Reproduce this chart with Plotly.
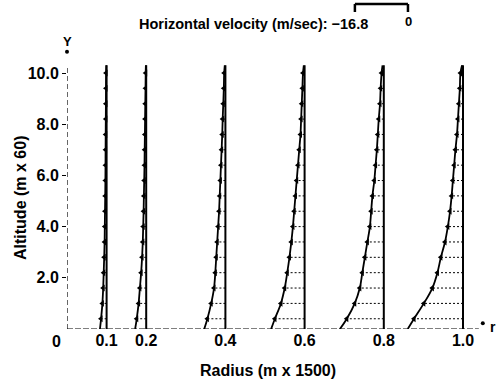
import plotly.graph_objects as go

# ---------------- data ----------------
radii = [0.1, 0.2, 0.4, 0.6, 0.8, 1.0]
# altitude grid (m x 60); first/last are curve ends, inner ones carry arrows
altitude = [0.0, 0.4, 1.0, 1.6, 2.2, 2.8, 3.4, 4.0, 4.6, 5.2, 5.8, 6.4,
            7.0, 7.6, 8.2, 8.8, 9.4, 10.0, 10.3]
# horizontal velocity (m/sec) at each altitude, one list per radius
vel_r01 = [-2.1, -1.75, -1.33, -1.08, -0.92, -0.76, -0.63, -0.57, -0.5, -0.44,
           -0.38, -0.35, -0.32, -0.29, -0.25, -0.22, -0.19, -0.16, -0.1]
vel_r02 = [-3.5, -3.0, -2.4, -2.0, -1.6, -1.3, -1.08, -0.95, -0.82, -0.73,
           -0.63, -0.54, -0.48, -0.41, -0.35, -0.29, -0.22, -0.16, -0.1]
vel_r04 = [-6.7, -5.7, -4.5, -3.6, -3.2, -2.9, -2.6, -2.3, -2.0, -1.8,
           -1.6, -1.4, -1.2, -1.0, -0.86, -0.67, -0.5, -0.38, -0.2]
vel_r06 = [-10.6, -9.4, -7.5, -6.3, -5.5, -4.8, -4.2, -3.7, -3.3, -2.9,
           -2.5, -2.1, -1.7, -1.3, -1.1, -0.9, -0.7, -0.5, -0.25]
vel_r08 = [-13.9, -11.7, -9.2, -7.6, -6.8, -6.0, -5.2, -4.4, -4.0, -3.6,
           -3.0, -2.6, -2.2, -1.9, -1.6, -1.2, -1.0, -0.7, -0.4]
vel_r10 = [-17.5, -15.5, -12.4, -9.7, -8.1, -7.0, -5.7, -4.8, -4.1, -3.6,
           -3.2, -2.8, -2.4, -1.9, -1.6, -1.3, -1.0, -0.8, -0.3]
velocities = [vel_r01, vel_r02, vel_r04, vel_r06, vel_r08, vel_r10]

x_ticks = [0.1, 0.2, 0.4, 0.6, 0.8, 1.0]
x_ticktext = ["0.1", "0.2", "0.4", "0.6", "0.8", "1.0"]
y_ticks = [2, 4, 6, 8, 10]
y_ticktext = ["2.0", "4.0", "6.0", "8.0", "10.0"]

scale_speed = 16.8           # m/sec shown by the scale bracket
scale_len = 0.134            # radius units of that bracket
k = scale_len / scale_speed  # radius units per m/sec

FONT = "Liberation Sans"
fig = go.Figure()

# axes drawn as broken lines
fig.add_trace(go.Scatter(x=[0, 1.04], y=[0, 0], mode="lines",
                         line=dict(color="black", width=1.2, dash="6px,2px"),
                         hoverinfo="skip", showlegend=False))
fig.add_trace(go.Scatter(x=[0, 0], y=[0, 10.3], mode="lines",
                         line=dict(color="black", width=1.2, dash="5px,3px"),
                         hoverinfo="skip", showlegend=False))
fig.add_trace(go.Scatter(x=[1.05, 0], y=[0.22, 10.83], mode="markers",
                         marker=dict(color="black", size=4), cliponaxis=False,
                         hoverinfo="skip", showlegend=False))

for r0, vel in zip(radii, velocities):
    xc = [r0 + v * k for v in vel]
    # baseline
    fig.add_trace(go.Scatter(x=[r0, r0], y=[0, altitude[-1]], mode="lines",
                             line=dict(color="black", width=2),
                             hoverinfo="skip", showlegend=False))
    # arrow shafts
    sx, sy = [], []
    for a, x in zip(altitude[1:-1], xc[1:-1]):
        sx += [r0, x, None]
        sy += [a, a, None]
    fig.add_trace(go.Scatter(x=sx, y=sy, mode="lines",
                             line=dict(color="black", width=1, dash="2px,2px"),
                             hoverinfo="skip", showlegend=False))
    # arrow heads
    fig.add_trace(go.Scatter(x=xc[1:-1], y=altitude[1:-1], mode="markers",
                             marker=dict(symbol="triangle-left", size=6, color="black"),
                             hoverinfo="skip", showlegend=False))
    # velocity profile curve
    fig.add_trace(go.Scatter(x=xc, y=altitude, mode="lines",
                             line=dict(color="black", width=1.8, shape="spline"),
                             hoverinfo="skip", showlegend=False))

L, R, T, B = 67, 2, 50, 57
W, H = 501, 386
PW, PH = W - L - R, H - T - B
xmax = PW / 396.0
ymax = PH / 25.6

fig.update_layout(
    width=W, height=H, margin=dict(l=L, r=R, t=T, b=B),
    paper_bgcolor="white", plot_bgcolor="white",
    font=dict(family=FONT, color="black"),
    xaxis=dict(range=[0, xmax], showgrid=False, zeroline=False, showline=False,
               tickvals=x_ticks, ticktext=x_ticktext, ticks="",
               tickfont=dict(size=16, family=FONT, weight="bold")),
    yaxis=dict(range=[0, ymax], showgrid=False, zeroline=False, showline=False,
               tickvals=y_ticks, ticktext=y_ticktext, ticks="outside", ticklen=4,
               tickcolor="black", tickwidth=1,
               tickfont=dict(size=16, family=FONT, weight="bold")),
)


def px_x(p):
    return (p - L) / PW


def px_y(p):
    return (H - B - p) / PH


def note(xp, yp, text, size, **kw):
    fig.add_annotation(x=px_x(xp), y=px_y(yp), xref="paper", yref="paper",
                       text=text, showarrow=False,
                       font=dict(family=FONT, size=size, color="black", weight="bold"),
                       **kw)


note(370, 24, "Horizontal velocity (m/sec): \u221216.8", 14.5,
     xanchor="right", yanchor="middle")
note(408, 22, "0", 13, xanchor="center", yanchor="middle")
note(56, 341, "0", 16, xanchor="center", yanchor="middle")
note(493, 327, "r", 14, xanchor="center", yanchor="middle")
note(67, 41, "Y", 13, xanchor="center", yanchor="middle")
note(268, 370, "Radius (m x 1500)", 16, xanchor="center", yanchor="middle")
note(20, 198, "Altitude (m x 60)", 16, xanchor="center", yanchor="middle",
     textangle=-90)

# scale bracket
bx1 = 0.861
bx0 = bx1 - scale_speed * k
ytop, ybot = px_y(4), px_y(12)
for x0, y0, x1, y1 in [(bx0, ytop, bx1, ytop), (bx0, ytop, bx0, ybot), (bx1, ytop, bx1, ybot)]:
    fig.add_shape(type="line", xref="x", yref="paper", x0=x0, y0=y0, x1=x1, y1=y1,
                  line=dict(color="black", width=2.5))

fig.write_html("out.html", config={"displayModeBar": False},
               post_script=["document.body.style.margin='0';"
                            "document.body.style.overflow='hidden';"])
